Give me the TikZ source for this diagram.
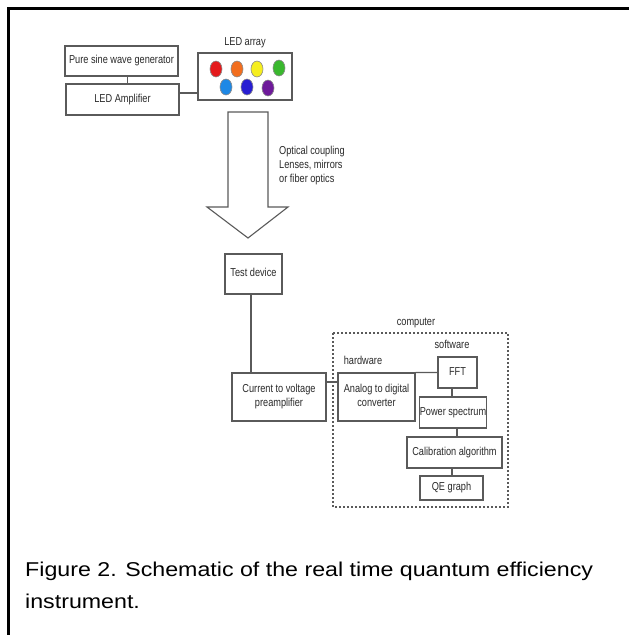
\documentclass[tikz,border=0pt]{standalone}
\usepackage{fontspec}
\setmainfont{Liberation Sans}
\usepackage{graphicx}
\usetikzlibrary{shapes.geometric}
\newcommand\nt[1]{\scalebox{0.8}[1]{\begin{tabular}{@{}c@{}}#1\end{tabular}}}
\newcommand\ntl[1]{\scalebox{0.8}[1]{\begin{tabular}{@{}l@{}}#1\end{tabular}}}
\definecolor{ln}{HTML}{5A5A5A}
\definecolor{tx}{HTML}{2A2A2A}
\tikzset{
  blk/.style={draw=ln, line width=1.1pt, inner sep=0pt, text=tx,
    font=\fontsize{11.5}{12.5}\selectfont},
  lbl/.style={inner sep=0pt, text=tx, font=\fontsize{11.5}{12.5}\selectfont},
  wire/.style={draw=ln, line width=1.1pt},
  ledc/.style={ellipse, draw=ln!70, line width=0.6pt, minimum width=12pt, minimum height=16pt, inner sep=0pt},
}
\begin{document}
\begin{tikzpicture}[x=1pt,y=-1pt]
\useasboundingbox (0,0) rectangle (629,635);
\fill[white] (0,0) rectangle (629,635);
% frame
\draw[line width=2.5pt] (8.3,640) -- (8.3,8.3) -- (640,8.3);

% top group
\node[blk, minimum width=113pt, minimum height=30pt] (gen) at (121.5,61) {\nt{Pure sine wave generator}};
\node[blk, minimum width=113pt, minimum height=31pt] (amp) at (122.5,99.5) {\nt{LED Amplifier}};
\node[blk, minimum width=94pt, minimum height=47pt] (led) at (245,76.5) {};
\node[lbl] (ledlbl) at (245,43) {\nt{LED array}};
\draw[wire] ([xshift=6pt]gen.south) -- ([xshift=6pt]gen.south |- amp.north);
\coordinate (c1) at (0,93);
\draw[wire] (amp.east |- c1) -- (led.west |- c1);

\node[ledc, fill={rgb,255:red,228;green,26;blue,28}] (l1) at (216,69) {};
\node[ledc, fill={rgb,255:red,242;green,110;blue,30}] (l2) at (237,69) {};
\node[ledc, fill={rgb,255:red,246;green,238;blue,30}] (l3) at (257,69) {};
\node[ledc, fill={rgb,255:red,58;green,184;blue,46}] (l4) at (279,68) {};
\node[ledc, fill={rgb,255:red,30;green,136;blue,229}] (l5) at (226,87) {};
\node[ledc, fill={rgb,255:red,40;green,30;blue,210}] (l6) at (247,87) {};
\node[ledc, fill={rgb,255:red,110;green,26;blue,154}] (l7) at (268,88) {};

% big arrow
\draw[ln, line width=1.1pt, fill=white] (228,112) -- (268,112) -- (268,207) -- (288,207) -- (248,238) -- (207,207) -- (228,207) -- cycle;
\node[lbl, anchor=west] (opt) at (279,166) {\ntl{Optical coupling\\[1.5pt] Lenses, mirrors\\[1.5pt] or fiber optics}};

% test device and preamplifier
\node[blk, minimum width=57pt, minimum height=40pt] (test) at (253.5,274) {\nt{Test device}};
\node[blk, minimum width=94pt, minimum height=48pt] (cur) at (279,397) {\nt{Current to voltage\\[1pt] preamplifier}};
\draw[wire] ([xshift=-2.5pt]test.south) -- ([xshift=-2.5pt]test.south |- cur.north);

% computer
\draw[ln, line width=1.1pt, dash pattern=on 2pt off 2pt] (333,333) rectangle (508,507);
\node[lbl] (comp) at (416,323) {\nt{computer}};
\node[lbl] (soft) at (452,346) {\nt{software}};
\node[lbl] (hard) at (363,362) {\nt{hardware}};

\node[blk, minimum width=77pt, minimum height=48pt] (adc) at (376.5,397) {\nt{Analog to digital\\[1pt] converter}};
\node[blk, minimum width=39pt, minimum height=31pt] (fft) at (457.5,372.5) {\nt{FFT}};
\node[blk, minimum width=66pt, minimum height=31pt] (pow) at (453,412.5) {\nt{Power spectrum}};
\node[blk, minimum width=95pt, minimum height=31pt] (cal) at (454.5,452.5) {\nt{Calibration algorithm}};
\node[blk, minimum width=63pt, minimum height=24pt] (qe) at (451.5,488) {\nt{QE graph}};

\coordinate (c2) at (0,382);
\draw[wire] (cur.east |- c2) -- (adc.west |- c2);
\draw[wire] (adc.north east) -- (fft.west);
\coordinate (v1) at (452,0);
\coordinate (v2) at (457,0);
\draw[wire] (fft.south -| v1) -- (pow.north -| v1);
\draw[wire] (pow.south -| v2) -- (cal.north -| v2);
\draw[wire] (cal.south -| v1) -- (qe.north -| v1);

% caption
\node[anchor=base west, inner sep=0pt, font=\fontsize{20}{24}\selectfont] (cap1) at (25,576) {\scalebox{1.16}[1]{Figure 2. Schematic of the real time quantum efficiency}};
\node[anchor=base west, inner sep=0pt, font=\fontsize{20}{24}\selectfont] (cap2) at (25,608) {\scalebox{1.16}[1]{instrument.}};
\end{tikzpicture}
\end{document}
